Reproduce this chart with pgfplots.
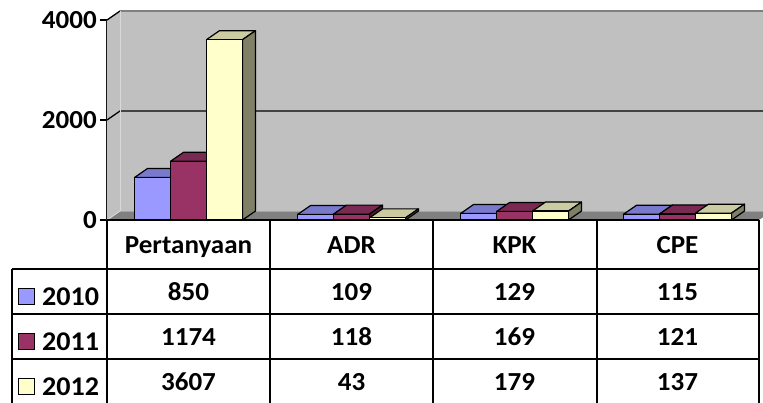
\documentclass[border=0pt]{standalone}
\usepackage{pgfplots}
\pgfplotsset{compat=1.18}
\usepackage{pgfplotstable}
\usepackage{fontspec}
\setmainfont{Carlito}[FakeStretch=1.04]
\definecolor{fa}{HTML}{9999FF}\definecolor{ta}{HTML}{7A7ACC}\definecolor{sa}{HTML}{4D4D80}
\definecolor{fb}{HTML}{993366}\definecolor{tb}{HTML}{7A2952}\definecolor{sb}{HTML}{4D1A33}
\definecolor{fc}{HTML}{FFFFCC}\definecolor{tc}{HTML}{CCCCA3}\definecolor{sc}{HTML}{808066}
\definecolor{wall}{HTML}{C0C0C0}\definecolor{floorc}{HTML}{808080}
\pgfdeclareplotmark{empty}{}
\newcommand\tabfont{\fontsize{26bp}{30bp}\selectfont\bfseries}
\newcommand\legfont{\fontsize{27bp}{30bp}\selectfont\bfseries}
\pgfplotstableread{
x cat v2010 v2011 v2012
0 Pertanyaan 850 1174 3607
1 ADR 109 118 43
2 KPK 129 169 179
3 CPE 115 121 137
}\datatable
\pgfplotsset{
  bar3d/.style n args={3}{
    scatter, only marks, mark=empty,
    visualization depends on={rawy \as \barval},
    scatter/@pre marker code/.code={%
      \pgfmathsetmacro\barh{\barval*0.05}%
      \filldraw[fill=#2, draw=black, line width=1.2bp, line join=round] (-18bp,0pt) -- ++(13bp,9bp) -- ++(36bp,0pt) -- ++(-13bp,-9bp) -- cycle;
      \filldraw[fill=#3, draw=black, line width=1.2bp, line join=round] (18bp,0pt) -- ++(13bp,9bp) -- ++(0pt,-\barh*1bp) -- ++(-13bp,-9bp) -- cycle;
      \filldraw[fill=#1, draw=black, line width=1.2bp, line join=round] (-18bp,0pt) rectangle (18bp,-\barh*1bp);
    },
    scatter/@post marker code/.code={},
  },
  tabrow/.style={draw=none, mark=none, nodes near coords, point meta=explicit symbolic,
    every node near coord/.append style={anchor=base, inner sep=0pt, font=\tabfont, text=black}},
}
\begin{document}
\begin{tikzpicture}
\useasboundingbox (0,0) rectangle (763bp,-403bp);
\clip (0,0) rectangle (763bp,-403bp);
\begin{axis}[
  at={(107bp,-220bp)}, anchor=south west,
  scale only axis, width=652bp, height=200bp,
  xmin=0, xmax=4, ymin=0, ymax=4000,
  clip=false,
  axis x line=none, axis y line*=left,
  y axis line style={line width=1.3bp, black},
  ytick={0,2000,4000},
  tick align=outside, major tick length=7bp,
  ytick style={line width=1.3bp, black},
  /pgf/number format/assume math mode=true,
  /pgf/number format/1000 sep={},
  yticklabel style={font=\tabfont, anchor=east, inner sep=0pt, xshift=-3bp},
]
\fill[wall] (axis cs:0,0) ++(13bp,9bp) rectangle ++(652bp,200bp);
\fill[wall] (axis cs:0,0) -- (axis cs:0,4000) -- ++(13bp,9bp) -- ++(0pt,-200bp) -- cycle;
\fill[floorc] (axis cs:0,0) -- ++(13bp,9bp) -- ++(652bp,0pt) -- ++(-13bp,-9bp) -- cycle;
\draw[floorc, line width=1.2bp] (axis cs:0,4000) ++(13bp,9bp) -- ++(652bp,0pt);
\draw[black, line width=1.3bp] (axis cs:0,4000) -- ++(13bp,9bp);
\draw[black, line width=1.3bp] (axis cs:0,2000) -- ++(13bp,9bp) -- ++(652bp,0pt);
\draw[black!15, line width=1bp] (axis cs:0,0) ++(13bp,9bp) -- ++(0pt,200bp);
\draw[black!35, line width=1bp] (axis cs:0,0) ++(13bp,9bp) -- ++(652bp,0pt);
\draw[black!15, line width=1bp] (axis cs:0,0) -- ++(13bp,9bp);
\addplot[bar3d={fa}{ta}{sa}] table[x expr=\thisrow{x}+0.5-0.2209, y=v2010] \datatable;
\addplot[bar3d={fb}{tb}{sb}] table[x expr=\thisrow{x}+0.5, y=v2011] \datatable;
\addplot[bar3d={fc}{tc}{sc}] table[x expr=\thisrow{x}+0.5+0.2209, y=v2012] \datatable;
\addplot[tabrow] table[x expr=\thisrow{x}+0.5, y expr=-660, meta=cat] \datatable;
\addplot[tabrow] table[x expr=\thisrow{x}+0.5, y expr=-1600, meta=v2010] \datatable;
\addplot[tabrow] table[x expr=\thisrow{x}+0.5, y expr=-2500, meta=v2011] \datatable;
\addplot[tabrow] table[x expr=\thisrow{x}+0.5, y expr=-3400, meta=v2012] \datatable;
\end{axis}
\begin{scope}[line width=1.5bp, black]
\draw (107bp,-220bp) -- (759bp,-220bp);
\foreach \xx in {107,270,433,597,759} \draw (\xx bp,-220bp) -- (\xx bp,-410bp);
\foreach \yy in {269,314,359} \draw (12bp,-\yy bp) -- (759bp,-\yy bp);
\draw (12bp,-269bp) -- (12bp,-410bp);
\end{scope}
\filldraw[fill=fa, draw=black, line width=1.2bp] (18.5bp,-288.5bp) rectangle (34.5bp,-304.5bp);
\filldraw[fill=fb, draw=black, line width=1.2bp] (18.5bp,-333.5bp) rectangle (34.5bp,-349.5bp);
\filldraw[fill=fc, draw=black, line width=1.2bp] (18.5bp,-378.5bp) rectangle (34.5bp,-394.5bp);
\node[anchor=base west, inner sep=0pt, text=black] at (42bp,-305.5bp) {\legfont 2010};
\node[anchor=base west, inner sep=0pt, text=black] at (42bp,-350.5bp) {\legfont 2011};
\node[anchor=base west, inner sep=0pt, text=black] at (42bp,-395.5bp) {\legfont 2012};
\end{tikzpicture}
\end{document}
